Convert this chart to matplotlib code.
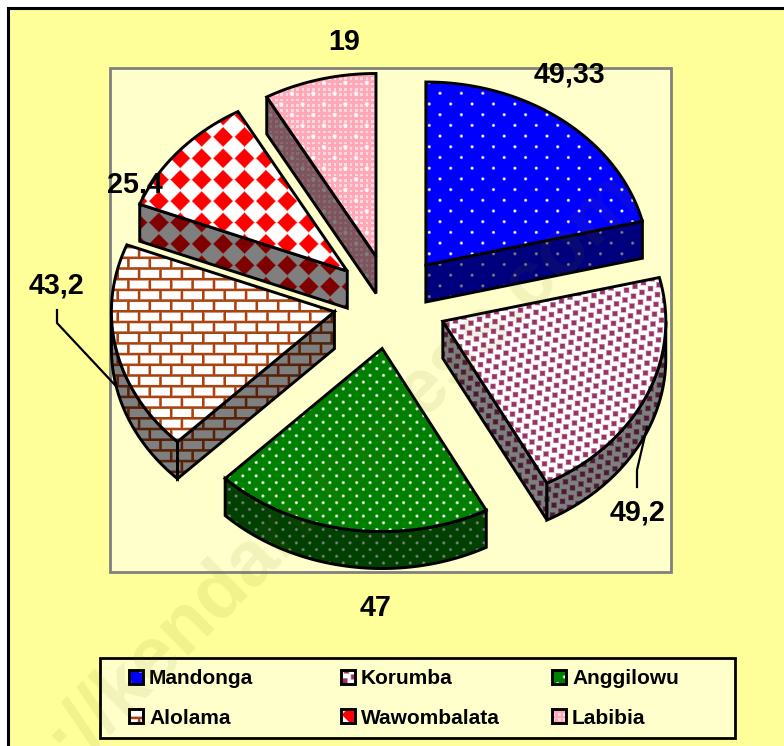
import numpy as np
import matplotlib
matplotlib.use('Agg')
import matplotlib.pyplot as plt
from matplotlib.patches import Polygon, Rectangle

# data
names = ['Mandonga', 'Korumba', 'Anggilowu', 'Alolama', 'Wawombalata', 'Labibia']
values = [49.33, 49.2, 47, 43.2, 25.4, 19]
value_labels = ['49,33', '49,2', '47', '43,2', '25,4', '19']

# layout, in pixels
W, H = 784, 746
cx, cy = 390.5, 302
rx, ry = 223, 183
explode = 0.257
depth = 37
label_pos = [(569, 74.5), (638, 512.5), (376, 607.5), (57, 285.5), (135, 184.5), (344, 42.5)]
key_x = [129, 341, 552]
key_y = [670, 709]

YELLOW = '#FFFF99'
PALE = '#FFFFCC'

x, y = np.meshgrid(np.arange(W) + 0.5, np.arange(H) + 0.5)


def lattice(a, b, origin):
    # offset of every pixel from the closest point of the lattice a, b
    inv = np.linalg.inv(np.array([a, b]).T)
    px, py = x - origin[0], y - origin[1]
    u = np.round(inv[0, 0] * px + inv[0, 1] * py)
    v = np.round(inv[1, 0] * px + inv[1, 1] * py)
    return px - (u * a[0] + v * b[0]), py - (u * a[1] + v * b[1])


def soft(d, edge=1.0):
    return np.clip(d / edge + 0.5, 0, 1)


def mix(base, fg, mask):
    base = np.array(matplotlib.colors.to_rgb(base))
    fg = np.array(matplotlib.colors.to_rgb(fg))
    return base + (fg - base) * mask[..., None]


def dots(base, w, r, origin):
    dx, dy = lattice((w, 0), (w / 2, w / 2), origin)
    return mix(base, 'white', soft(r - np.hypot(dx, dy), 1.5))


def squares():
    dx, dy = lattice((7, 6), (-8.5, 3.8), (554, 350))
    return mix('white', '#993366', soft(2.5 - np.maximum(abs(dx), abs(dy)), 1.4))


def bricks():
    h, w = 10.7, 21.4
    yy = y - 1
    row = np.floor(yy / h)
    fy = yy - (row + 0.5) * h
    fx = (x + (row % 2) * w / 2) % w - w / 2
    line = np.maximum(soft(1.3 - (h / 2 - abs(fy))), soft(1.3 - (w / 2 - abs(fx))))
    return mix('white', '#AA4410', line)


def diamonds():
    dx, dy = lattice((21.4, 0), (0, 21.4), (201.7, 158.3))
    return mix('white', '#FF0000', soft(9.8 - (abs(dx) + abs(dy)), 1.8))


def pink():
    check = ((np.floor(x / 2.67) % 2) * (np.floor(y / 2.67) % 2))
    img = mix('#FFA8B8', '#FFD8E0', check)
    dx, dy = lattice((21.4, 0), (10.7, 10.7), (313.3, 115))
    return img + (1 - img) * soft(2.0 - np.hypot(dx, dy), 1.5)[..., None]


textures = [dots('#0000FF', 21.4, 1.4, (440, 93.3)), squares(), dots('#008000', 13.4, 1.4, (343.3, 429)),
            bricks(), diamonds(), pink()]

fig = plt.figure(figsize=(W / 100, H / 100), dpi=100)
ax = fig.add_axes([0, 0, 1, 1])
ax.axis('off')


def fill(pts, tex, z):
    # textured polygon with a black outline
    outline = Polygon(pts, closed=True, fc='none', ec='black', lw=2.1, joinstyle='miter', zorder=z + 0.1)
    ax.add_patch(outline)
    im = ax.imshow(tex, extent=(0, W, H, 0), aspect='auto', interpolation='nearest', zorder=z)
    im.set_clip_path(outline)


# chart area, plot area, legend box
ax.add_patch(Rectangle((8, 8), W, H, fc=YELLOW, ec='black', lw=2.2, zorder=1))
ax.add_patch(Rectangle((110.5, 68), 560.5, 504, fc=PALE, ec='#808080', lw=2, zorder=2))
ax.add_patch(Rectangle((100, 658), 635.5, 80, fc=PALE, ec='black', lw=2, zorder=2))

# slice angles, clockwise from 12 o'clock
edges = np.concatenate([[0], np.cumsum(values)]) / np.sum(values) * 360


def on_ellipse(t):
    t = np.radians(t)
    return np.column_stack([rx * np.sin(t), -ry * np.cos(t)])


apexes = []
for i in range(len(values)):
    mid = (edges[i] + edges[i + 1]) / 2
    apexes.append(np.array([cx, cy]) + explode * on_ellipse(mid)[0])

# back slices first
order = sorted(range(len(values)), key=lambda i: apexes[i][1])
down = np.array([0, depth])
z = 3
for i in order:
    t1, t2 = edges[i], edges[i + 1]
    apex = apexes[i]
    shade = textures[i] * 0.5

    # radial walls that face the viewer
    for t, normal in ((t1, t1 - 90), (t2, t2 + 90)):
        if np.cos(np.radians(normal)) < -1e-6:
            p = apex + on_ellipse(t)[0]
            fill([apex, p, p + down, apex + down], shade, z)
            z += 1

    # outer wall, only the front part of the rim
    lo, hi = max(t1, 90), min(t2, 270)
    if lo < hi:
        rim = apex + on_ellipse(np.linspace(lo, hi, 80))
        fill(np.vstack([rim, (rim + down)[::-1]]), shade, z)
        z += 1

    # top face
    arc = apex + on_ellipse(np.linspace(t1, t2, 120))
    fill(np.vstack([[apex], arc]), textures[i], z)
    z += 1

# leader lines
ax.plot([57, 57, 115], [310, 323, 385], color='black', lw=1.6, zorder=z)
ax.plot([637, 637, 647], [487, 470, 427], color='black', lw=1.6, zorder=z)

for lab, pos in zip(value_labels, label_pos):
    ax.text(pos[0], pos[1], lab, family='Liberation Sans', weight='bold', fontsize=20.7,
            ha='center', va='center', color='black', zorder=z + 1)

# legend entries, row by row
for i, name in enumerate(names):
    kx, ky = key_x[i % 3], key_y[i // 3]
    fill([(kx, ky), (kx + 14, ky), (kx + 14, ky + 14), (kx, ky + 14)], textures[i], z)
    ax.text(kx + 20, ky + 9, name, family='Liberation Sans', weight='bold', fontsize=15,
            ha='left', va='center', color='black', zorder=z + 1)

# watermark
ax.text(292, 518, 'http://kendariinpress.com', family='Liberation Sans', weight='bold', fontsize=56,
        rotation=45, rotation_mode='anchor', ha='center', va='center',
        color='#6E6E10', alpha=0.09, zorder=z + 2)

ax.set_xlim(0, W)
ax.set_ylim(H, 0)
fig.savefig('out.png', dpi=100)
